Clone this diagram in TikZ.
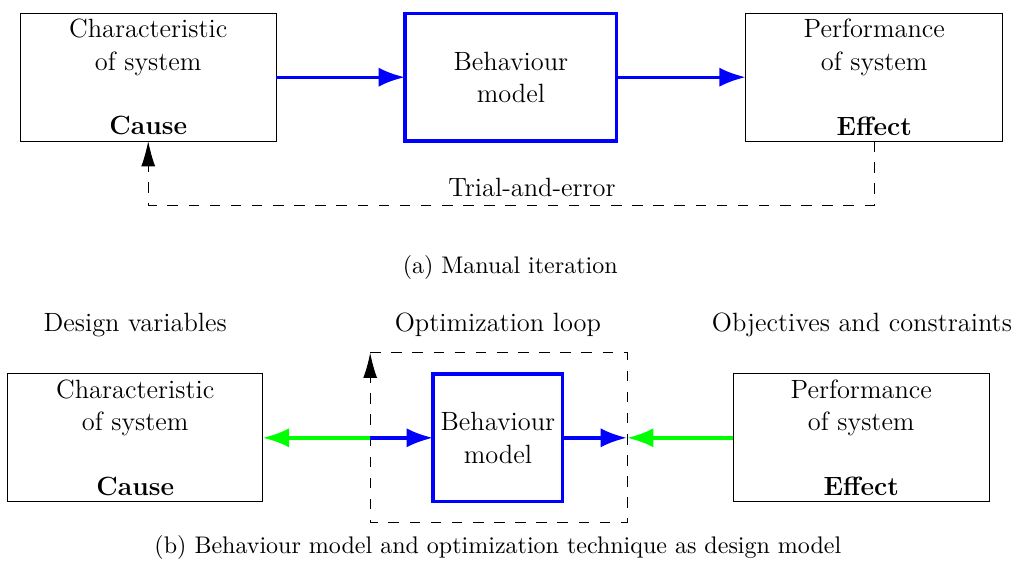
\documentclass[tikz,border=0pt]{standalone}
\usetikzlibrary{arrows.meta}
\tikzset{
  sysbox/.style={draw, minimum width=3.75cm, minimum height=1.87cm, align=center, inner sep=0pt, outer sep=0pt},
  modelbox/.style={draw=blue, line width=1.4pt, minimum height=1.87cm, align=center, inner sep=0pt, outer sep=0pt},
  flow/.style={blue, line width=1.4pt, -{Latex[length=11pt, width=8pt]}},
  feed/.style={green, line width=1.4pt, -{Latex[length=11pt, width=8pt]}},
  trial/.style={dash pattern=on 4.4pt off 4.4pt, -{Latex[length=10.5pt, width=5.8pt]}},
  caption/.style={font=\fontsize{10}{12}\selectfont},
}
\begin{document}
\begin{tikzpicture}[font=\fontsize{11}{13.5}\selectfont]
\useasboundingbox (0,0) rectangle (14.89,-8.30);

% (a) manual iteration
\node[sysbox] (cause) at (2.17,-1.13) {Characteristic\\of system\\[13.5pt]\textbf{Cause}};
\node[modelbox, minimum width=3.10cm] (model) at (7.48,-1.13) {Behaviour\\model};
\node[sysbox, minimum width=3.76cm] (effect) at (12.80,-1.13) {Performance\\of system\\[13.5pt]\textbf{Effect}};

\draw[flow] (cause) -- (model);
\draw[flow] (model) -- (effect);
\draw[trial] (effect.south) -- ++(0,-0.94) -| (cause.south);
\node (trialtext) at (7.79,-2.74) {Trial-and-error};

\node[caption] (capa) at (7.47,-3.91) {(a) Manual iteration};

% (b) design model
\node (varlabel) at (1.98,-4.76) {Design variables};
\node (looplabel) at (7.29,-4.76) {Optimization loop};
\node (objlabel) at (12.62,-4.76) {Objectives and constraints};

\node[sysbox, minimum width=3.73cm] (cause2) at (1.98,-6.41) {Characteristic\\of system\\[13.5pt]\textbf{Cause}};
\node[modelbox, minimum width=1.90cm] (model2) at (7.29,-6.41) {Behaviour\\model};
\node[sysbox] (effect2) at (12.61,-6.41) {Performance\\of system\\[13.5pt]\textbf{Effect}};

\node[minimum width=3.76cm, minimum height=2.49cm, inner sep=0pt, outer sep=0pt] (loop) at (7.30,-6.41) {};
\draw[trial] (loop.north west) -- (loop.north east) -- (loop.south east)
  -- (loop.south west) -- (loop.north west);

\draw[feed] (loop.west) -- (cause2);
\draw[flow] (loop.west) -- (model2);
\draw[flow] (model2) -- (loop.east);
\draw[feed] (effect2) -- (loop.east);

\node[caption] (capb) at (7.29,-8.02) {(b) Behaviour model and optimization technique as design model};
\end{tikzpicture}
\end{document}
